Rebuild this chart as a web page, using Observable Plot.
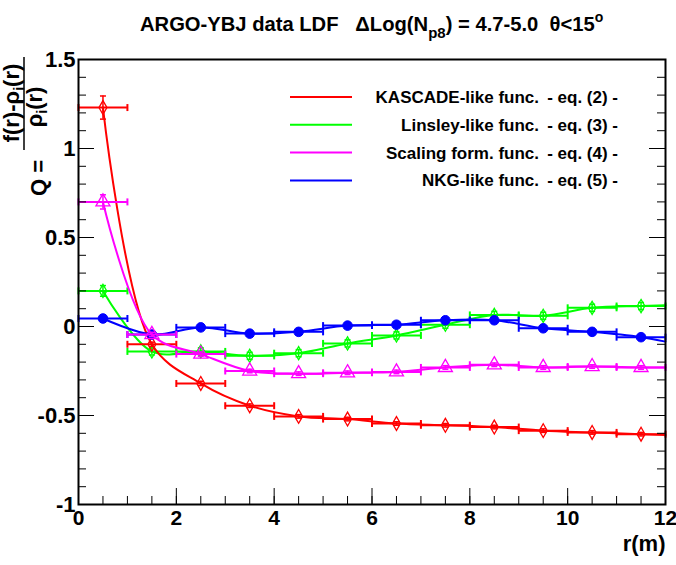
<!DOCTYPE html>
<html><head><meta charset="utf-8">
<script src="https://cdn.jsdelivr.net/npm/d3@7"></script>
<script src="https://cdn.jsdelivr.net/npm/@observablehq/plot@0.6"></script>
<style>
body{margin:0;background:#fff}
#chart{width:676px;height:565px;overflow:hidden}
svg text{font-family:"Liberation Sans",Arial,Helvetica,sans-serif;font-weight:bold}
</style>
</head><body><div id="chart"></div>
<script>
// ---- data ----
const r = [0.5, 1.5, 2.5, 3.5, 4.5, 5.5, 6.5, 7.5, 8.5, 9.5, 10.5, 11.5];
const binHalfWidth = 0.5;
const kascade    = [1.23, -0.10, -0.32, -0.445, -0.505, -0.52, -0.545, -0.555, -0.565, -0.585, -0.595, -0.605];
const kascadeErr = [0.065, 0.012, 0.012, 0.01, 0.01, 0.01, 0.01, 0.01, 0.01, 0.01, 0.01, 0.01];
const linsley    = [0.20, -0.14, -0.14, -0.165, -0.15, -0.095, -0.05, 0.01, 0.065, 0.06, 0.105, 0.115];
const linsleyErr = [0.03, 0.02, 0.02, 0.02, 0.02, 0.02, 0.02, 0.02, 0.02, 0.02, 0.02, 0.02];
const scaling    = [0.70, -0.045, -0.155, -0.25, -0.265, -0.26, -0.255, -0.23, -0.215, -0.23, -0.225, -0.23];
const scalingErr = [0.04, 0.012, 0.012, 0.01, 0.01, 0.01, 0.01, 0.01, 0.01, 0.01, 0.01, 0.01];
const nkg        = [0.045, -0.045, -0.005, -0.04, -0.03, 0.005, 0.01, 0.035, 0.035, -0.01, -0.03, -0.06];
const nkgErr     = [0.02, 0.015, 0.015, 0.015, 0.015, 0.015, 0.015, 0.015, 0.015, 0.015, 0.015, 0.015];
const curveEndR = 12;
const curveEnd  = [-0.61, 0.12, -0.23, -0.085];   // fitted curves at r = 12

const seriesNames = ["KASCADE-like func.", "Linsley-like func.", "Scaling form. func.", "NKG-like func."];
const seriesEqs   = ["- eq. (2) -", "- eq. (3) -", "- eq. (4) -", "- eq. (5) -"];
const seriesVals  = [kascade, linsley, scaling, nkg];
const seriesErrs  = [kascadeErr, linsleyErr, scalingErr, nkgErr];

const xTickLabels = [0, 2, 4, 6, 8, 10, 12];
const yTickLabels = [-1, -0.5, 0, 0.5, 1, 1.5];

// ---- styles ----
const colors  = ["#ff0000", "#00ff00", "#ff00ff", "#0000ff"];
const symbols = ["diamond", "diamond", "triangle", "circle"];
const markerR = [4.2, 4.0, 5.2, 4.8];
const markerFill = ["none", "none", "none", "#0000ff"];
const markerSW = [1.3, 1.3, 1.3, 1];
const drawOrder = [1, 0, 3, 2];

const W = 676, H = 565, mL = 78, mR = 11, mT = 59, mB = 61;
const plotW = W - mL - mR, plotH = H - mT - mB;

const vcap = {draw(ctx, size){ const h = Math.sqrt(size / Math.PI); ctx.moveTo(0, -h); ctx.lineTo(0, h); }};
const hcap = {draw(ctx, size){ const h = Math.sqrt(size / Math.PI); ctx.moveTo(-h, 0); ctx.lineTo(h, 0); }};

const marks = [];
for (const s of drawOrder) {
  const rows = r.map((rv, i) => ({r: rv, v: seriesVals[s][i], e: seriesErrs[s][i]}));
  const curveRows = rows.map(d => ({r: d.r, v: d.v})).concat([{r: curveEndR, v: curveEnd[s]}]);
  const c = colors[s];
  marks.push(
    Plot.ruleY(rows, {y: "v", x1: d => d.r - binHalfWidth, x2: d => d.r + binHalfWidth, stroke: c, strokeWidth: 2}),
    Plot.dot(rows, {x: d => d.r - binHalfWidth, y: "v", symbol: vcap, r: 3.5, stroke: c, fill: "none", strokeWidth: 2}),
    Plot.dot(rows, {x: d => d.r + binHalfWidth, y: "v", symbol: vcap, r: 3.5, stroke: c, fill: "none", strokeWidth: 2}),
    Plot.ruleX(rows, {x: "r", y1: d => d.v - d.e, y2: d => d.v + d.e, stroke: c, strokeWidth: 1.5}),
    Plot.dot(rows, {x: "r", y: d => d.v - d.e, symbol: hcap, r: 3, stroke: c, fill: "none", strokeWidth: 1.5}),
    Plot.dot(rows, {x: "r", y: d => d.v + d.e, symbol: hcap, r: 3, stroke: c, fill: "none", strokeWidth: 1.5}),
    Plot.line(curveRows, {x: "r", y: "v", curve: "catmull-rom", stroke: c, strokeWidth: 2}),
    Plot.dot(rows, {x: "r", y: "v", symbol: symbols[s], r: markerR[s], stroke: c, fill: markerFill[s], strokeWidth: markerSW[s]})
  );
}

const yMinor = d3.range(-1, 1.5001, 0.1);
const xMinor = d3.range(0, 12.001, 0.5);

const chart = Plot.plot({
  width: W, height: H,
  marginLeft: mL, marginRight: mR, marginTop: mT, marginBottom: mB,
  style: {background: "white", fontFamily: "Liberation Sans, Arial, sans-serif", fontWeight: "bold"},
  x: {domain: [0, 12]},
  y: {domain: [-1, 1.5]},
  marks: [
    ...marks,
    Plot.tickY(yMinor, {y: d => d, insetRight: plotW - 8, stroke: "black", strokeWidth: 1}),
    Plot.tickY(yTickLabels, {y: d => d, insetRight: plotW - 16, stroke: "black", strokeWidth: 1}),
    Plot.tickY(yMinor, {y: d => d, insetLeft: plotW - 8, stroke: "black", strokeWidth: 1}),
    Plot.tickY(yTickLabels, {y: d => d, insetLeft: plotW - 16, stroke: "black", strokeWidth: 1}),
    Plot.tickX(xMinor, {x: d => d, insetTop: plotH - 8, stroke: "black", strokeWidth: 1}),
    Plot.tickX(xTickLabels, {x: d => d, insetTop: plotH - 16, stroke: "black", strokeWidth: 1}),
    Plot.frame({stroke: "black", strokeWidth: 2}),
    Plot.axisY({ticks: yTickLabels, tickSize: 0, tickPadding: 3, tickFormat: d => String(d), label: null, fontSize: 22, fontWeight: "bold", fill: "black"}),
    Plot.axisX({ticks: xTickLabels, tickSize: 0, tickPadding: 6, tickFormat: d => String(d), label: null, fontSize: 21, fontWeight: "bold", fill: "black"}),
    Plot.text(["r(m)"], {text: d => d, frameAnchor: "bottom-right", textAnchor: "end", dy: 46, fontSize: 22, fontWeight: "bold", fill: "black"})
  ]
});
document.getElementById("chart").appendChild(chart);

const svg = d3.select(chart);

// Title
const t = svg.append("text").attr("x", 140).attr("y", 31).attr("font-size", 20.2).attr("fill", "black")
  .attr("text-anchor", "start").attr("xml:space", "preserve").style("white-space", "pre");
t.append("tspan").text("ARGO-YBJ data LDF   \u0394Log(N");
t.append("tspan").attr("font-size", 15).attr("dy", 7).text("p8");
t.append("tspan").attr("dy", -7).text(") = 4.7-5.0  \u03b8<15");
t.append("tspan").attr("font-size", 14).attr("dy", -9).text("o");

// Legend
const legendY0 = 97, legendStep = 27.8;
seriesNames.forEach((name, i) => {
  const y = legendY0 + i * legendStep;
  svg.append("line").attr("x1", 290).attr("x2", 352).attr("y1", y).attr("y2", y)
    .attr("stroke", colors[i]).attr("stroke-width", 2);
  svg.append("text").attr("x", 539).attr("y", y + 6).attr("text-anchor", "end")
    .attr("font-size", 17).attr("fill", "black").text(name);
  svg.append("text").attr("x", 618).attr("y", y + 6).attr("text-anchor", "end")
    .attr("font-size", 17).attr("fill", "black").text(seriesEqs[i]);
});

// Y axis title: Q = (f(r)-rho_i(r)) / rho_i(r)
const num = svg.append("text").attr("transform", "translate(19,103) rotate(-90)")
  .attr("text-anchor", "middle").attr("font-size", 22).attr("fill", "black");
num.append("tspan").text("f(r)-\u03c1");
num.append("tspan").attr("font-size", 14).attr("dy", 5).text("i");
num.append("tspan").attr("dy", -5).text("(r)");
svg.append("line").attr("x1", 24).attr("x2", 24).attr("y1", 57).attr("y2", 150)
  .attr("stroke", "black").attr("stroke-width", 1.5);
const den = svg.append("text").attr("transform", "translate(42,107) rotate(-90)")
  .attr("text-anchor", "middle").attr("font-size", 22).attr("fill", "black");
den.append("tspan").text("\u03c1");
den.append("tspan").attr("font-size", 14).attr("dy", 5).text("i");
den.append("tspan").attr("dy", -5).text("(r)");
svg.append("text").attr("transform", "translate(46,178) rotate(-90)")
  .attr("text-anchor", "middle").attr("font-size", 22).attr("fill", "black").text("Q =");
</script>
</body></html>
